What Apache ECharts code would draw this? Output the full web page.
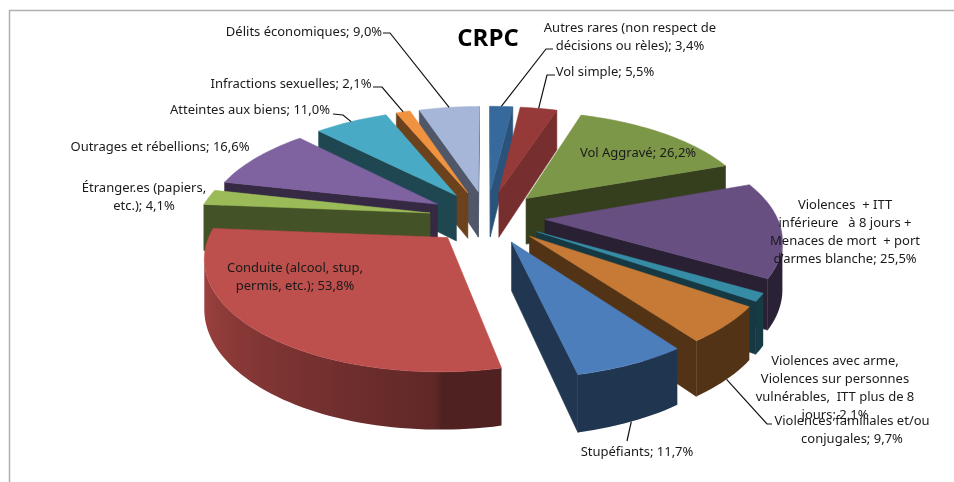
<!DOCTYPE html>
<html>
<head>
<meta charset="utf-8">
<title>CRPC</title>
<style>
html, body { margin: 0; padding: 0; background: #fff; }
#chart { width: 954px; height: 482px; }
</style>
<script src="https://cdn.jsdelivr.net/npm/echarts@6/dist/echarts.min.js"></script>
</head>
<body>
<div id="chart"></div>
<script>
var titleText = 'CRPC';
var labelNames = [
	'Autres rares (non respect de\ndécisions ou rèles)',
	'Vol simple',
	'Vol Aggravé',
	'Violences  + ITT\ninférieure   à 8 jours +\nMenaces de mort  + port\nd’armes blanche',
	'Violences avec arme,\nViolences sur personnes\nvulnérables,  ITT plus de 8\njours',
	'Violences familiales et/ou\nconjugales',
	'Stupéfiants',
	'Conduite (alcool, stup,\npermis, etc.)',
	'Étranger.es (papiers,\netc.)',
	'Outrages et rébellions',
	'Atteintes aux biens',
	'Infractions sexuelles',
	'Délits économiques'
];
var values = [3.4, 5.5, 26.2, 25.5, 2.1, 9.7, 11.7, 53.8, 4.1, 16.6, 11.0, 2.1, 9.0];
var colors = ['#376a9c', '#953a39', '#7d9748', '#674f82', '#368ca5', '#c67a35',
	'#4c7ebb', '#bd4f4c', '#9bbb59', '#7f62a0', '#48aac4', '#f09340', '#a5b6d8'];
// 切面明暗，前两块偏亮
var cutShades = [0.78, 0.8, 0.42, 0.4, 0.4, 0.42, 0.43, 0.45, 0.44, 0.42, 0.42, 0.45, 0.48];
// 标签位置：[中心x, 首行y]
var labelPos = [[630, 28], [605, 72], [638, 153], [845, 205], [835, 361], [852, 421],
	[637, 452], [295, 268], [144, 188], [160, 147], [250, 110], [291, 84], [304, 32]];
// 引线：标签端的两点，另一端落在扇区外缘
var leaderPos = {
	0: [[553, 49], [546, 49]],
	1: [[555, 75], [547, 75]],
	5: [[772, 424], [767, 424]],
	6: [[627, 441]],
	10: [[333, 114], [343, 115]],
	11: [[373, 87], [382, 87]],
	12: [[383, 33], [390, 33]]
};

var total = values.reduce(function(a, b){ return a + b; }, 0);
var cx = 487, cy = 217, rx = 232, ry = 106, persp = 0.157, depth = 47, explode = 0.25;

// 三维点投影到屏幕
function project(X, Y, Z){
	var f = 1 / (1 - persp * Y);
	return [cx + X * rx * f, cy + (Y * ry + Z * depth) * f];
}

function shade(color, k){
	var c = echarts.color.parse(color);
	return 'rgb(' + Math.round(c[0] * k) + ',' + Math.round(c[1] * k) + ',' + Math.round(c[2] * k) + ')';
}

function sliceAngles(idx){
	var before = 0;
	for (var i = 0; i < idx; i++) { before += values[i]; }
	return [before / total * 2 * Math.PI, (before + values[idx]) / total * 2 * Math.PI];
}

function wallShade(a){
	// 外壁明暗：左侧亮，正前和右侧暗
	var deg = a * 180 / Math.PI;
	if (deg > 180) { return 0.5 + 0.37 * Math.min(1, (deg - 180) / 85); }
	return 0.42;
}

function renderSlice(params, api){
	var idx = api.value(0);
	var ang = sliceAngles(idx);
	var mid = (ang[0] + ang[1]) / 2;
	var ox = explode * Math.sin(mid), oy = -explode * Math.cos(mid);
	var color = colors[idx];
	var steps = Math.max(3, Math.ceil((ang[1] - ang[0]) / 0.03));
	var top = [project(ox, oy, 0)];
	var bottom = [project(ox, oy, 1)];
	var arcAngles = [];
	for (var s = 0; s <= steps; s++) {
		var a = ang[0] + (ang[1] - ang[0]) * s / steps;
		arcAngles.push(a);
		top.push(project(ox + Math.sin(a), oy - Math.cos(a), 0));
		bottom.push(project(ox + Math.sin(a), oy - Math.cos(a), 1));
	}
	var children = [];
	function quad(i, j, fill){
		children.push({
			type: 'polygon',
			shape: { points: [top[i], top[j], bottom[j], bottom[i]] },
			style: { fill: fill, stroke: fill, lineWidth: 0.6 }
		});
	}
	var n = top.length;
	// 顺时针走一圈，向左走的边才朝向观察者
	if (top[1][0] < top[0][0]) { quad(0, 1, shade(color, cutShades[idx])); }
	if (top[0][0] < top[n - 1][0]) { quad(n - 1, 0, shade(color, cutShades[idx])); }
	// 外壁连成一块，用横向渐变上色
	var first = -1, last = -1;
	for (var k = 1; k < n - 1; k++) {
		if (top[k + 1][0] < top[k][0]) {
			if (first < 0) { first = k; }
			last = k + 1;
		}
	}
	if (first > 0) {
		var pts = [];
		for (var t = first; t <= last; t++) { pts.push(top[t]); }
		for (var b = last; b >= first; b--) { pts.push(bottom[b]); }
		var xMin = top[last][0], xMax = top[first][0];
		var stops = [];
		for (var g = last; g >= first; g--) {
			stops.push({
				offset: (top[g][0] - xMin) / (xMax - xMin),
				color: shade(color, wallShade(arcAngles[g - 1]))
			});
		}
		children.push({
			type: 'polygon',
			shape: { points: pts },
			style: {
				fill: { type: 'linear', global: true, x: xMin, y: 0, x2: xMax, y2: 0, colorStops: stops }
			}
		});
	}
	children.push({
		type: 'polygon',
		shape: { points: top },
		style: { fill: color, stroke: color, lineWidth: 0.5 }
	});
	return { type: 'group', children: children };
}

function renderLabel(params, api){
	var idx = api.value(0);
	var ang = sliceAngles(idx);
	var mid = (ang[0] + ang[1]) / 2;
	var ox = explode * Math.sin(mid), oy = -explode * Math.cos(mid);
	var children = [];
	var pct = values[idx].toFixed(1).replace('.', ',') + '%';
	children.push({
		type: 'text',
		style: {
			x: labelPos[idx][0],
			y: labelPos[idx][1] - 9,
			text: labelNames[idx] + '; ' + pct,
			font: '13px "Noto Sans"',
			lineHeight: 18,
			fill: '#1a1a1a',
			align: 'center',
			verticalAlign: 'top'
		}
	});
	if (leaderPos[idx]) {
		var front = Math.cos(mid) < 0;
		var end = project(ox + Math.sin(mid), oy - Math.cos(mid), front ? 1 : 0);
		children.push({
			type: 'polyline',
			shape: { points: leaderPos[idx].concat([end]) },
			style: { stroke: '#111', lineWidth: 1.2, fill: null }
		});
	}
	return { type: 'group', children: children };
}

// 从后往前画
var order = values.map(function(v, i){ return i; }).sort(function(a, b){
	var aa = sliceAngles(a), bb = sliceAngles(b);
	return Math.cos((bb[0] + bb[1]) / 2) - Math.cos((aa[0] + aa[1]) / 2);
});

var chart = echarts.init(document.getElementById('chart'));
chart.setOption({
	animation: false,
	backgroundColor: '#fff',
	xAxis: { show: false, type: 'value' },
	yAxis: { show: false, type: 'value' },
	graphic: [
		{
			type: 'polyline',
			shape: { points: [[9.5, 482], [9.5, 10.5], [954, 10.5]] },
			style: { stroke: '#b0b0b0', lineWidth: 1.5, fill: null }
		},
		{
			type: 'text',
			x: 488, y: 39,
			z: 10,
			style: { text: titleText, font: 'bold 24px "Open Sans"', fill: '#000', align: 'center', verticalAlign: 'middle' }
		}
	],
	series: [
		{
			type: 'custom',
			coordinateSystem: 'none',
			renderItem: renderSlice,
			data: order.map(function(i){ return [i]; }),
			silent: true
		},
		{
			type: 'custom',
			coordinateSystem: 'none',
			renderItem: renderLabel,
			data: values.map(function(v, i){ return [i]; }),
			silent: true,
			z: 5
		}
	]
});
</script>
</body>
</html>
